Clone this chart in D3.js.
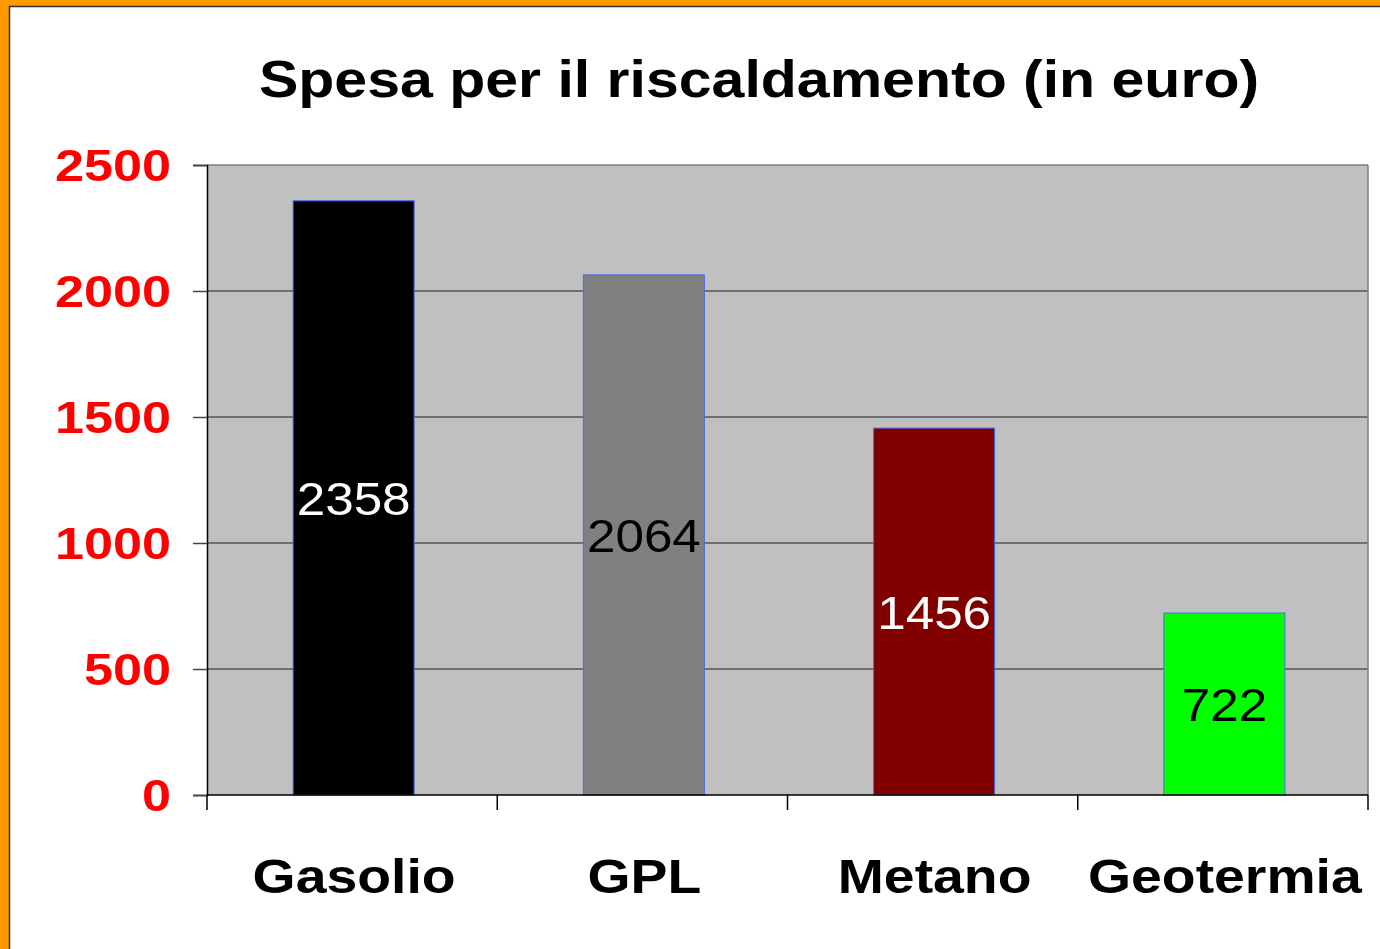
<!DOCTYPE html>
<html lang="it">
<head>
<meta charset="UTF-8" />
<title>Spesa per il riscaldamento</title>
<script src="https://d3js.org/d3.v7.min.js"></script>
<style>
  body { margin: 0; background: #fff; }
  svg text { font-family: "Liberation Sans", Arial, Helvetica, sans-serif; }
</style>
</head>
<body>
<div id="chart"></div>
<script>
const width = 1380, height = 949;

// data
const categories = ["Gasolio", "GPL", "Metano", "Geotermia"];
const values = [2358, 2064, 1456, 722];
const barColors = ["#000000", "#808080", "#800000", "#00ff00"];
const labelColors = ["#ffffff", "#000000", "#ffffff", "#000000"];
const yTicks = [0, 500, 1000, 1500, 2000, 2500];
const title = "Spesa per il riscaldamento (in euro)";

const plot = { left: 207, right: 1368, top: 165, bottom: 795 };
const stretch = 1.12; // text in the original is a bit wide

const svg = d3.select("#chart").append("svg")
    .attr("width", width).attr("height", height);

// orange frame
svg.append("rect").attr("width", width).attr("height", height).attr("fill", "#ff9900");
svg.append("rect")
    .attr("x", 9.5).attr("y", 6.5)
    .attr("width", width).attr("height", height)
    .attr("fill", "#fff").attr("stroke", "#333").attr("stroke-width", 1.5);

const x = d3.scaleBand().domain(categories)
    .range([plot.left, plot.right])
    .paddingInner(0.583).paddingOuter(0.2915);
const xOuter = d3.scaleBand().domain(categories).range([plot.left, plot.right]);
const y = d3.scaleLinear().domain([0, 2500]).range([plot.bottom, plot.top]);

// plot background
svg.append("rect")
    .attr("x", plot.left).attr("y", plot.top)
    .attr("width", plot.right - plot.left).attr("height", plot.bottom - plot.top)
    .attr("fill", "#c0c0c0");

// gridlines
svg.append("g").selectAll("line")
    .data(yTicks.filter(d => d > 0))
    .join("line")
    .attr("x1", plot.left).attr("x2", plot.right)
    .attr("y1", d => y(d)).attr("y2", d => y(d))
    .attr("stroke", d => d === 2500 ? "#808080" : "#555")
    .attr("stroke-width", 1.5);

// right border
svg.append("line")
    .attr("x1", plot.right).attr("x2", plot.right)
    .attr("y1", plot.top).attr("y2", plot.bottom)
    .attr("stroke", "#808080").attr("stroke-width", 1.5);

// bars
svg.append("g").selectAll("rect")
    .data(values)
    .join("rect")
    .attr("x", (d, i) => x(categories[i]) + 1.5)
    .attr("y", d => y(d))
    .attr("width", x.bandwidth())
    .attr("height", d => y(0) - y(d))
    .attr("fill", (d, i) => barColors[i])
    .attr("stroke", "#4a6cf0")
    .attr("stroke-width", 1);

// value labels
svg.append("g").selectAll("text")
    .data(values)
    .join("text")
    .attr("transform", (d, i) => {
        const cx = x(categories[i]) + x.bandwidth() / 2 + 1.5;
        const cy = (y(d) + y(0)) / 2 + 17;
        return `translate(${cx},${cy}) scale(1.09,1)`;
    })
    .attr("text-anchor", "middle")
    .attr("font-size", 47)
    .attr("fill", (d, i) => labelColors[i])
    .text(d => d);

// y axis
const yAxis = svg.append("g")
    .attr("transform", `translate(${plot.left},0)`)
    .call(d3.axisLeft(y).tickValues(yTicks).tickSize(14).tickFormat(""));
yAxis.select(".domain").attr("stroke", "#000").attr("stroke-width", 1.5);
yAxis.selectAll(".tick line").attr("stroke", "#444").attr("stroke-width", 1.5);

svg.append("g").selectAll("text")
    .data(yTicks)
    .join("text")
    .attr("transform", d => `translate(171,${y(d) + 16}) scale(1.16,1)`)
    .attr("text-anchor", "end")
    .attr("font-size", 45)
    .attr("font-weight", "bold")
    .attr("fill", "#ff0000")
    .text(d => d);

// x axis
svg.append("line")
    .attr("x1", plot.left).attr("x2", plot.right)
    .attr("y1", plot.bottom).attr("y2", plot.bottom)
    .attr("stroke", "#000").attr("stroke-width", 1.5);

const xTickPos = categories.map(c => xOuter(c)).concat([plot.right]);
svg.append("g").selectAll("line")
    .data(xTickPos)
    .join("line")
    .attr("x1", d => d).attr("x2", d => d)
    .attr("y1", plot.bottom).attr("y2", plot.bottom + 15)
    .attr("stroke", "#000").attr("stroke-width", 1.5);

svg.append("g").selectAll("text")
    .data(categories)
    .join("text")
    .attr("transform", d => `translate(${xOuter(d) + xOuter.bandwidth() / 2 + 2},893) scale(1.13,1)`)
    .attr("text-anchor", "middle")
    .attr("font-size", 49)
    .attr("font-weight", "bold")
    .attr("fill", "#000")
    .text(d => d);

// title
svg.append("text")
    .attr("transform", `translate(759,97) scale(1.135,1)`)
    .attr("text-anchor", "middle")
    .attr("font-size", 52)
    .attr("font-weight", "bold")
    .attr("fill", "#000")
    .text(title);
</script>
</body>
</html>
